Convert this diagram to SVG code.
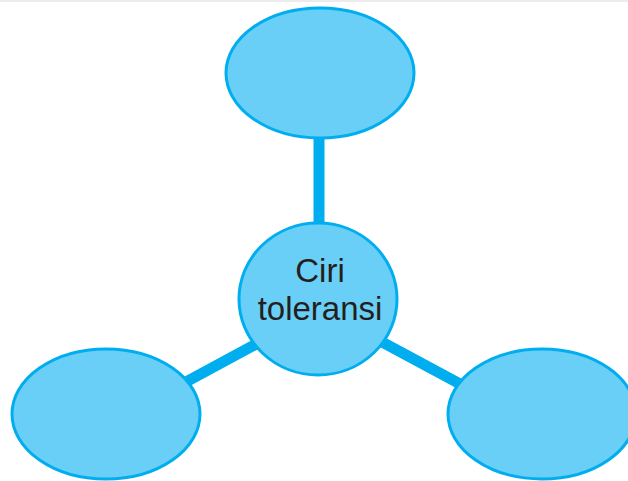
<svg xmlns="http://www.w3.org/2000/svg" width="628" height="481" viewBox="0 0 628 481">
<style>
.node{fill:#6ACFF6;stroke:#00AEEF;stroke-width:3}
.conn{stroke:#00AEEF;stroke-width:11;fill:none}
.lbl{font-family:"Liberation Sans",Arial,sans-serif;font-size:33px;fill:#231F20;text-anchor:middle}
</style>
<rect x="0" y="0" width="628" height="481" fill="#fff"/>
<rect x="0" y="0" width="628" height="2" fill="#ececec"/>
<g id="connectors">
<line class="conn" x1="319" y1="138" x2="319" y2="224"/>
<line class="conn" x1="184" y1="383" x2="258" y2="343"/>
<line class="conn" x1="382" y1="342" x2="462" y2="385"/>
</g>
<g id="node-top"><ellipse class="node" cx="320" cy="73" rx="94" ry="65"/></g>
<g id="node-left"><ellipse class="node" cx="106" cy="414" rx="94" ry="65"/></g>
<g id="node-right"><ellipse class="node" cx="542" cy="414" rx="94" ry="65"/></g>
<g id="node-center"><ellipse class="node" cx="318" cy="299" rx="79" ry="76"/>
<text class="lbl" x="320" y="282">Ciri</text>
<text class="lbl" x="320" y="320">toleransi</text></g>
</svg>
